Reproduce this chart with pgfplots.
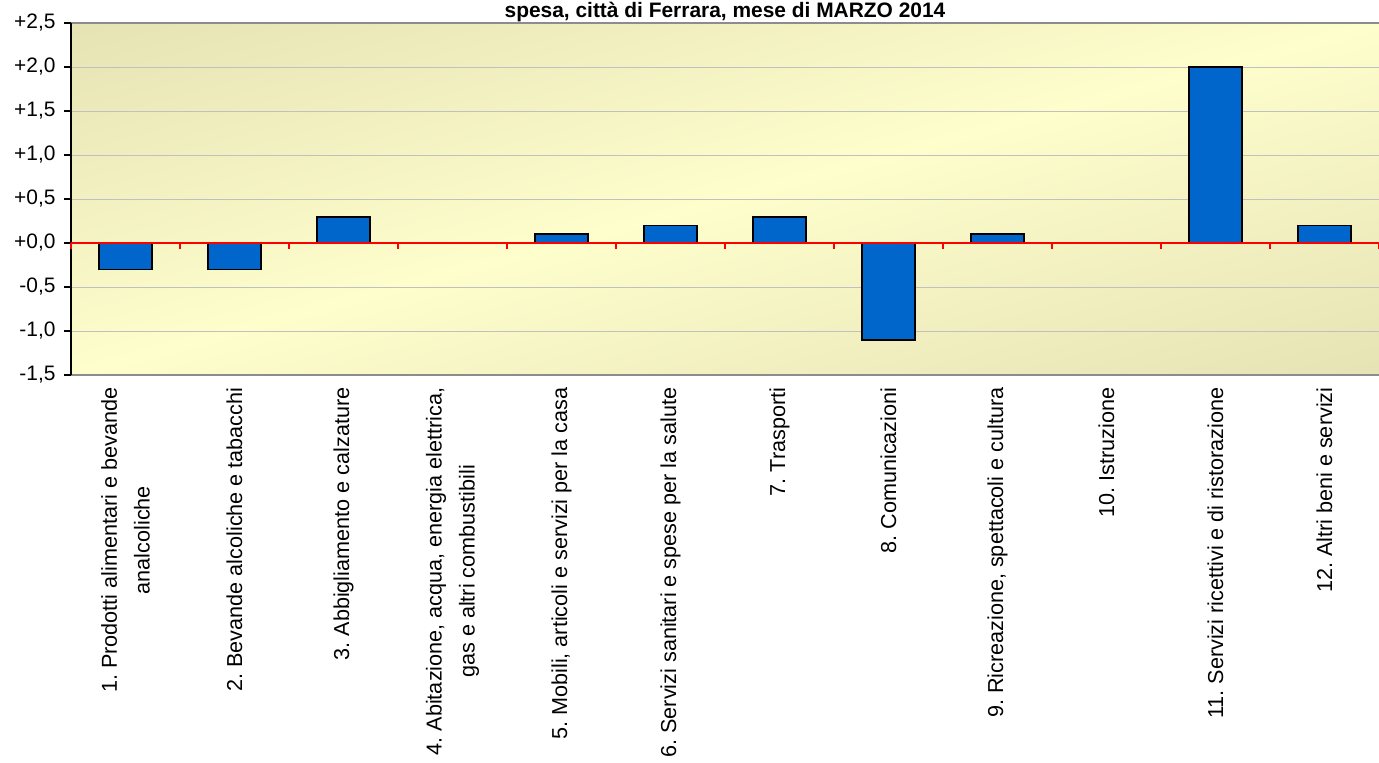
\documentclass[border=0pt]{standalone}
\usepackage{pgfplots}
\pgfplotsset{compat=1.18}
\usepackage{fontspec}
\setmainfont{Liberation Sans}
\frenchspacing

\definecolor{barblue}{HTML}{0066CC}
\definecolor{bgdark}{HTML}{E2DFB0}
\definecolor{bglight}{HTML}{FEFDCC}
\definecolor{gridgray}{HTML}{C0C0C0}
\definecolor{framegray}{HTML}{8C8C8C}
\pgfdeclarehorizontalshading{bgshade}{100bp}{color(0bp)=(bgdark); color(15bp)=(bgdark); color(50bp)=(bglight); color(85bp)=(bgdark); color(100bp)=(bgdark)}

\begin{document}
\begin{tikzpicture}
\useasboundingbox (-71bp,-388bp) rectangle (1308bp,375bp);
\node[anchor=base, font=\bfseries\fontsize{21}{24}\selectfont] at (654bp,357bp)
  {spesa, città di Ferrara, mese di MARZO 2014};
\begin{axis}[
  at={(0,0)}, anchor=south west,
  scale only axis, width=1308bp, height=352bp,
  xmin=0.5, xmax=12.5, ymin=-1.5, ymax=2.5,
  axis x line=box, axis y line=left,
  x axis line style={framegray, line width=1.5bp, -},
  y axis line style={black, line width=1.5bp, -},
  axis background/.style={shade, shading=bgshade, shading angle=-75},
  ytick={-1.5,-1,-0.5,0,0.5,1,1.5,2,2.5},
  yticklabels={{-1,5},{-1,0},{-0,5},{+0,0},{+0,5},{+1,0},{+1,5},{+2,0},{+2,5}},
  ymajorgrids, major grid style={gridgray, line width=1bp},
  ytick style={black, line width=1.2bp}, ytick align=outside,
  major tick length=7bp,
  xtick={1,...,12}, xtick style={draw=none},
  xticklabels={
    {1. Prodotti alimentari e bevande\\analcoliche},
    {2. Bevande alcoliche e tabacchi},
    {3. Abbigliamento e calzature},
    {4. Abitazione, acqua, energia elettrica,\\gas e altri combustibili},
    {5. Mobili, articoli e servizi per la casa},
    {6. Servizi sanitari e spese per la salute},
    {7. Trasporti},
    {8. Comunicazioni},
    {9. Ricreazione, spettacoli e cultura},
    {10. Istruzione},
    {11. Servizi ricettivi e di ristorazione},
    {12. Altri beni e servizi}},
  xticklabel shift=9bp,
  xticklabel style={rotate=90, anchor=east, align=center,
    font=\fontsize{21.7}{33}\selectfont},
  yticklabel shift=5bp,
  yticklabel style={font=\fontsize{21}{24}\selectfont},
]
\addplot[ybar, bar width=0.48, fill=barblue, draw=black, line width=1.8bp]
  coordinates {(1,-0.3) (2,-0.3) (3,0.3) (4,0) (5,0.1) (6,0.2)
               (7,0.3) (8,-1.1) (9,0.1) (10,0) (11,2.0) (12,0.2)};
\end{axis}
\begin{axis}[
  at={(0,0)}, anchor=south west,
  scale only axis, width=1308bp, height=352bp,
  xmin=0.5, xmax=12.5, ymin=-1.5, ymax=2.5,
  axis x line=middle, axis y line=none,
  x axis line style={red, line width=2bp, -},
  xtick={0.5,1.5,...,12.5}, xticklabels={},
  xtick style={red, line width=1.5bp}, xtick align=outside,
  major tick length=6bp, ytick=\empty,
]
\end{axis}
\end{tikzpicture}
\end{document}
